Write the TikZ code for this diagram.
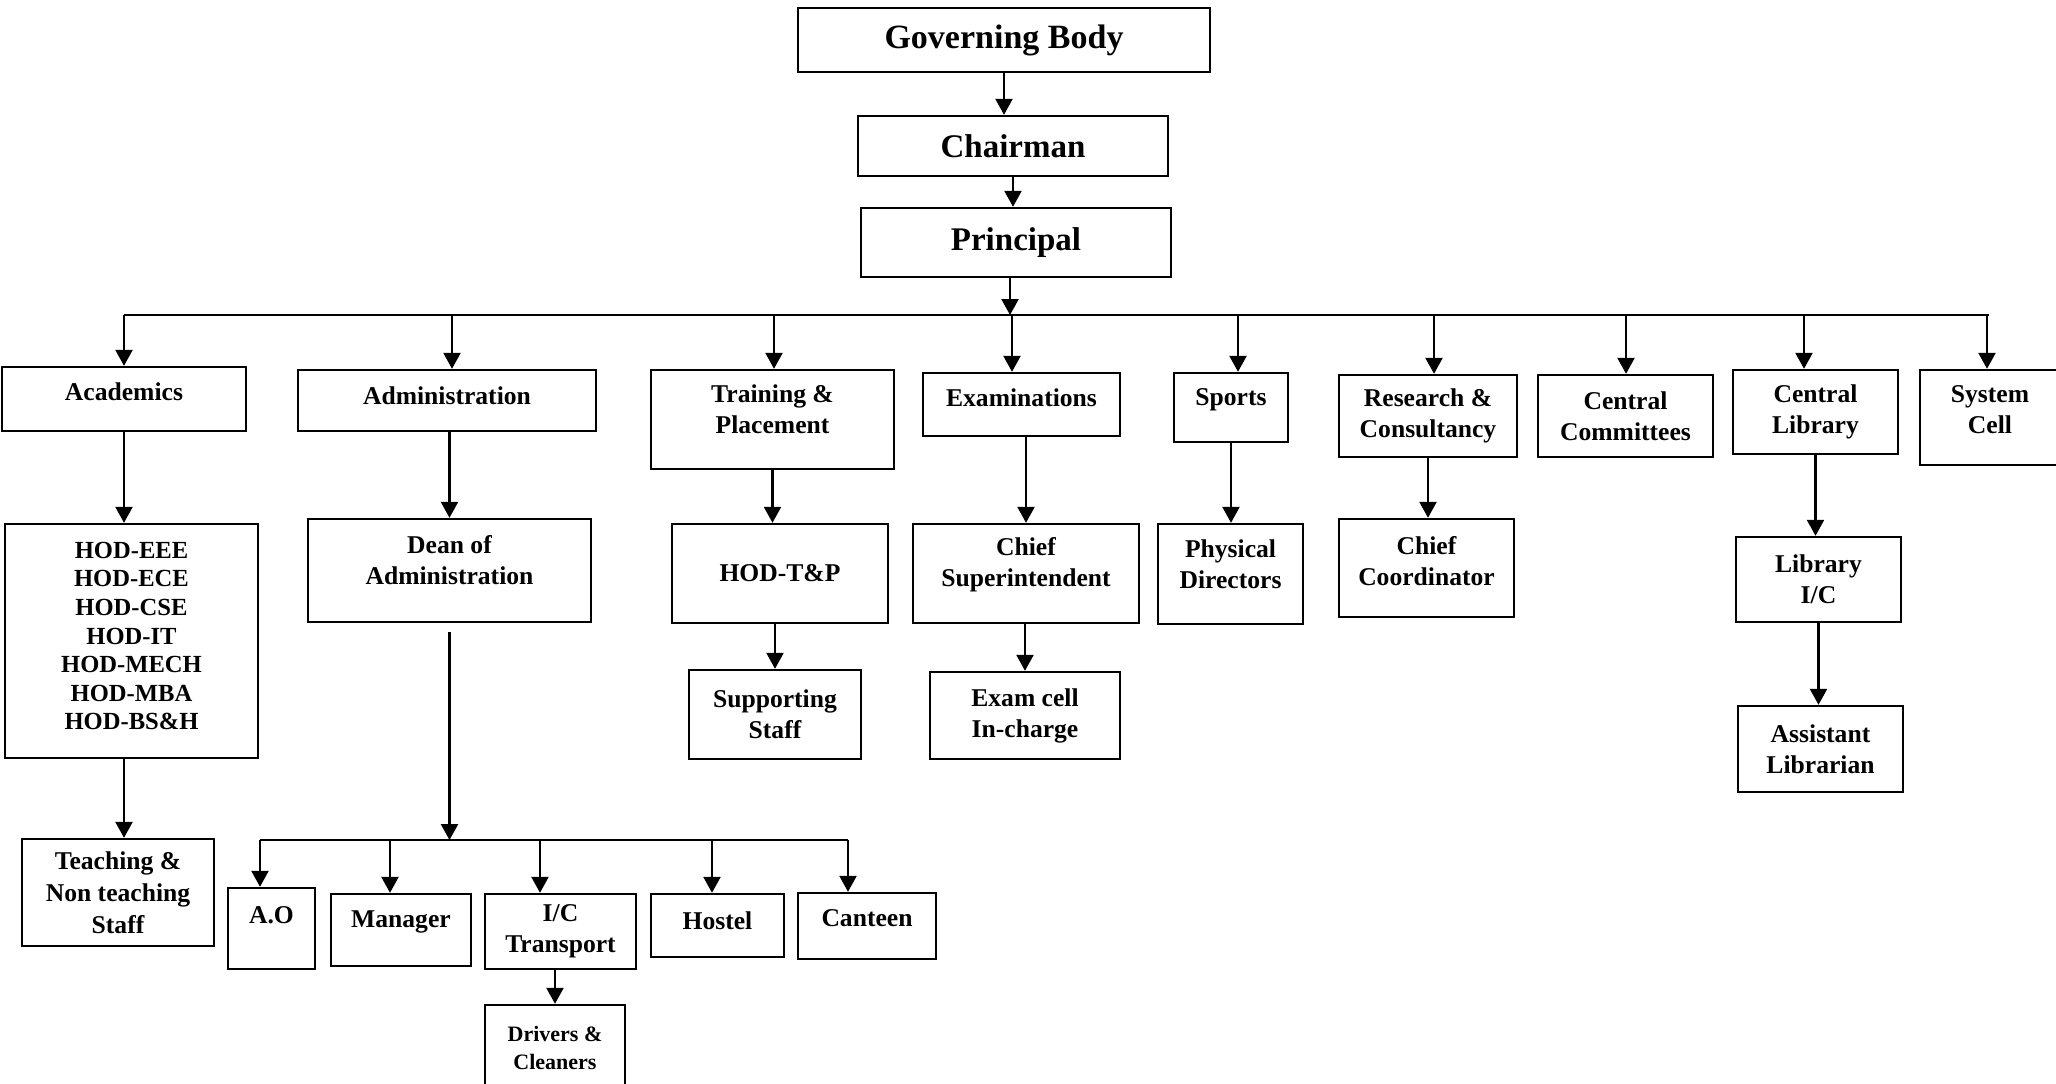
\documentclass[tikz,border=0pt]{standalone}
\usepackage{fontspec}
\setmainfont{Liberation Serif}
\usetikzlibrary{arrows.meta,calc}

\begin{document}
\begin{tikzpicture}[x=0.5pt,y=-0.5pt,>={Triangle[length=8pt,width=8.5pt]},line width=1.2pt,
    box/.style={draw,inner sep=0pt,align=center,font=\bfseries\fontsize{12.8}{15.5}\selectfont}]
    \path[use as bounding box,fill=white] (0,0) rectangle (2056,1083);

    \node[box,minimum width=206pt,minimum height=32pt,font=\bfseries\fontsize{17}{20}\selectfont] (gov) at (1004,40) {Governing Body};
    \node[box,minimum width=155pt,minimum height=30pt,font=\bfseries\fontsize{16.5}{20}\selectfont] (chair) at (1013,146) {Chairman};
    \node[box,minimum width=155pt,minimum height=34.5pt,font=\bfseries\fontsize{16.5}{20}\selectfont] (princ) at (1016,242.5) {Principal};

    \node[box,minimum width=122pt,minimum height=32pt,text depth=7pt] (acad) at (124,399) {Academics};
    \node[box,minimum width=149pt,minimum height=30.5pt,text depth=5pt] (admin) at (447,400.5) {Administration};
    \node[box,minimum width=121.5pt,minimum height=49.5pt,text depth=10.5pt] (tp) at (772.5,419.5) {Training \&\\Placement};
    \node[box,minimum width=98.5pt,minimum height=31.5pt,text depth=6.5pt] (exam) at (1021.5,404.5) {Examinations};
    \node[box,minimum width=57pt,minimum height=34.5pt,text depth=10.5pt] (sports) at (1231,407.5) {Sports};
    \node[box,minimum width=89pt,minimum height=41pt] (rc) at (1428,416) {Research \&\\Consultancy};
    \node[box,minimum width=87.5pt,minimum height=41pt] (cc) at (1625.5,416) {Central\\Committees};
    \node[box,minimum width=82.5pt,minimum height=42pt] (cl) at (1815.5,412) {Central\\Library};
    \node[box,minimum width=70pt,minimum height=47.5pt,text depth=8pt] (sys) at (1990,417.5) {System\\Cell};

    \node[box,minimum width=126.5pt,minimum height=117pt,text depth=5pt,font=\bfseries\fontsize{12.3}{14.3}\selectfont] (hod) at (131.5,641)
      {HOD-EEE\\HOD-ECE\\HOD-CSE\\HOD-IT\\HOD-MECH\\HOD-MBA\\HOD-BS\&H};
    \node[box,minimum width=141.5pt,minimum height=51.5pt,text depth=11pt] (dean) at (449.5,570.5) {Dean of\\Administration};
    \node[box,minimum width=108pt,minimum height=49.5pt] (hodtp) at (780,573.5) {HOD-T\&P};
    \node[box,minimum width=113pt,minimum height=49.5pt,text depth=12pt] (chsup) at (1026,573.5) {Chief\\Superintendent};
    \node[box,minimum width=72.5pt,minimum height=50pt,text depth=10pt] (phys) at (1230.5,574) {Physical\\Directors};
    \node[box,minimum width=87.5pt,minimum height=49pt,text depth=7pt] (chco) at (1426.5,568) {Chief\\Coordinator};
    \node[box,minimum width=82.5pt,minimum height=42.5pt] (libic) at (1818.5,579.5) {Library\\I/C};

    \node[box,minimum width=86pt,minimum height=44.5pt] (supp) at (775,714.5) {Supporting\\Staff};
    \node[box,minimum width=95pt,minimum height=43.5pt] (excell) at (1025,715.5) {Exam cell\\In-charge};
    \node[box,minimum width=82.5pt,minimum height=43pt] (asst) at (1820.5,749) {Assistant\\Librarian};

    \node[box,minimum width=96pt,minimum height=53.5pt,font=\bfseries\fontsize{12.8}{16}\selectfont] (teach) at (118,892.5) {Teaching \&\\Non teaching\\Staff};
    \node[box,minimum width=43.5pt,minimum height=40.5pt,text depth=13pt] (ao) at (271.5,928.5) {A.O};
    \node[box,minimum width=70pt,minimum height=36pt,text depth=11pt] (mgr) at (401,930) {Manager};
    \node[box,minimum width=75.5pt,minimum height=37.5pt] (ict) at (560.5,931.5) {I/C\\Transport};
    \node[box,minimum width=66.5pt,minimum height=31.5pt,text depth=5pt] (hostel) at (717.5,925.5) {Hostel};
    \node[box,minimum width=69pt,minimum height=33pt,text depth=8pt] (canteen) at (867,926) {Canteen};
    \node[box,minimum width=70pt,minimum height=43pt,font=\bfseries\fontsize{11}{14}\selectfont] (drivers) at (555,1048) {Drivers \&\\Cleaners};

    \draw[->] (gov.south) -- (gov.south |- chair.north);
    \draw[->] (chair.south) -- (chair.south |- princ.north);

    \coordinate (busL) at (124,315);
    \coordinate (busR) at (1989,315);
    \draw (busL) -- (busR);
    \coordinate (t) at ($(princ.south)+(-6,0)$);
    \draw[->] (t) -- (t |- busL);
    \foreach \n/\dx in {acad/0,admin/5,tp/1.5,exam/-9.5,sports/7,rc/6,cc/0.5,cl/-11.5,sys/-3}{
      \coordinate (t) at ($(\n.north)+(\dx,0)$);
      \draw[->] (t |- busL) -- (t);
    }

    \draw[->] (acad.south) -- (acad.south |- hod.north);
    \draw[->] (acad.south |- hod.south) -- (acad.south |- teach.north);
    \draw[->] (dean.north |- admin.south) -- (dean.north);

    \coordinate (subL) at (260,840);
    \coordinate (subR) at (848,840);
    \draw (subL) -- (subR);
    \draw[->] ([yshift=-4.5pt]dean.south) -- (dean.south |- subL);
    \foreach \n/\dx in {ao/-11.5,mgr/-11,ict/-20.5,hostel/-5.5,canteen/-19}{
      \coordinate (t) at ($(\n.north)+(\dx,0)$);
      \draw[->] (t |- subL) -- (t);
    }
    \draw[->] (drivers.north |- ict.south) -- (drivers.north);

    \draw[->] (tp.south) -- (tp.south |- hodtp.north);
    \draw[->] (supp.north |- hodtp.south) -- (supp.north);
    \draw[->] (chsup.north |- exam.south) -- (chsup.north);
    \draw[->] (excell.north |- chsup.south) -- (excell.north);
    \draw[->] (sports.south) -- (sports.south |- phys.north);
    \draw[->] (rc.south) -- (rc.south |- chco.north);
    \draw[->] (cl.south) -- (cl.south |- libic.north);
    \draw[->] (libic.south) -- (libic.south |- asst.north);
\end{tikzpicture}
\end{document}
